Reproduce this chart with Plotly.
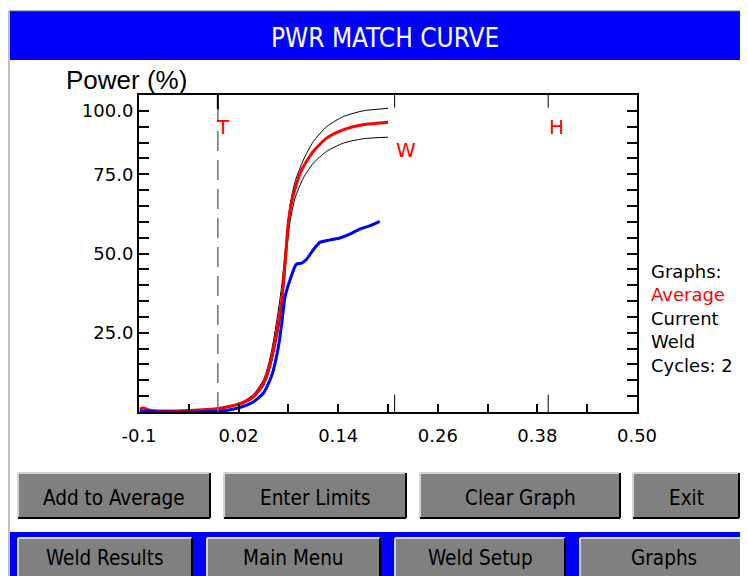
import plotly.graph_objects as go

# --- data ---
RED_X = [-0.099, -0.095, -0.087, -0.071, -0.039, -0.007, 0.010, 0.026, 0.038, 0.050, 0.056, 0.061,
         0.067, 0.072, 0.076, 0.080, 0.086, 0.096, 0.110, 0.126, 0.146, 0.170, 0.200]
RED_Y = [0.9, 1.3, 0.6, 0.3, 0.5, 1.0, 1.8, 3.0, 4.9, 9.1, 13.3, 18.7,
         27.0, 35.4, 47.0, 60.0, 68.5, 76.4, 82.2, 86.4, 89.0, 90.6, 91.4]

UPPER_X = [-0.099, -0.087, -0.071, -0.039, -0.007, 0.010, 0.026, 0.038, 0.050, 0.056, 0.061, 0.067,
           0.072, 0.078, 0.082, 0.088, 0.098, 0.110, 0.126, 0.146, 0.170, 0.200]
UPPER_Y = [0.6, 0.4, 0.4, 0.6, 1.1, 2.0, 3.4, 5.6, 10.2, 15.0, 21.0, 30.5,
           40.0, 55.9, 65.4, 72.7, 79.5, 85.3, 90.0, 93.2, 95.0, 95.8]

LOWER_X = UPPER_X
LOWER_Y = [0.5, 0.3, 0.2, 0.4, 0.9, 1.6, 2.7, 4.4, 8.2, 12.0, 17.0, 24.5,
           32.5, 50.6, 60.1, 67.5, 73.8, 78.5, 82.2, 84.8, 86.2, 86.7]

BLUE_X = [-0.099, -0.071, -0.031, -0.007, 0.010, 0.026, 0.038, 0.050, 0.058, 0.062, 0.068, 0.072,
          0.076, 0.082, 0.088, 0.090, 0.096, 0.102, 0.110, 0.118, 0.130, 0.142, 0.154, 0.166,
          0.178, 0.190]
BLUE_Y = [0.3, 0.0, 0.0, 0.2, 0.7, 1.8, 3.2, 6.0, 10.2, 13.3, 20.7, 28.0,
          36.4, 41.7, 46.0, 46.7, 47.0, 48.2, 51.2, 53.5, 54.3, 54.9, 56.1, 57.7,
          58.7, 60.1]

MARKER_NAMES = ["T", "W", "H"]
MARKER_X = [-0.005, 0.208, 0.393]
MARKER_LABEL_Y = [90, 82.7, 90]

X_TICKS = [-0.1, 0.02, 0.14, 0.26, 0.38, 0.50]
X_TICK_TEXT = ["-0.1", "0.02", "0.14", "0.26", "0.38", "0.50"]
Y_TICKS = [25, 50, 75, 95]
Y_TICK_TEXT = ["25.0", "50.0", "75.0", "100.0"]

LEGEND_LINES = ["Graphs:", "Average", "Current", "Weld", "Cycles: 2"]
LEGEND_COLORS = ["black", "red", "black", "black", "black"]

TOP_BUTTONS = ["Add to Average", "Enter Limits", "Clear Graph", "Exit"]
BOTTOM_BUTTONS = ["Weld Results", "Main Menu", "Weld Setup", "Graphs"]

# --- screen geometry, in page pixels (the page body has an 8px margin) ---
W, H = 748, 576
OFF = 8
PL, PR, PT, PB = 139, 637, 95, 412
TOP_BTN_X = [(18, 210), (224, 406), (420, 620), (633, 739)]
BOT_BTN_X = [(18, 192), (207, 380), (395, 565), (580, 760)]

COND = "DejaVu Sans Condensed, Liberation Sans Narrow, Arial Narrow, sans-serif"
VERD = "DejaVu Sans, Verdana, sans-serif"


def px(x):
    return (x - PL) / (PR - PL)


def py(y):
    return (PB - y) / (PB - PT)


fig = go.Figure()

curve = dict(mode="lines", line_shape="spline", line_smoothing=0.6)
fig.add_trace(go.Scatter(x=UPPER_X, y=UPPER_Y, line=dict(color="black", width=1), **curve))
fig.add_trace(go.Scatter(x=LOWER_X, y=LOWER_Y, line=dict(color="black", width=1), **curve))
fig.add_trace(go.Scatter(x=RED_X, y=RED_Y, line=dict(color="#ff0000", width=3), **curve))
fig.add_trace(go.Scatter(x=BLUE_X, y=BLUE_Y, line=dict(color="#0000ff", width=3), **curve))

shapes = []
annotations = []


def text(x, y, s, size, color="black", family=VERD, xanchor="center"):
    annotations.append(dict(x=px(x), y=py(y), xref="paper", yref="paper", text=s,
                            showarrow=False, xanchor=xanchor, yanchor="middle",
                            font=dict(family=family, size=size, color=color)))


# T/W/H marker lines
label_shift = {"T": 5, "W": 11, "H": 8}
for name, mx, ly in zip(MARKER_NAMES, MARKER_X, MARKER_LABEL_Y):
    if name == "T":
        shapes.append(dict(type="line", xref="x", yref="y domain", x0=mx, x1=mx, y0=0, y1=1,
                           line=dict(color="#707070", width=1.5, dash="20px,9px")))
        shapes.append(dict(type="line", xref="x", yref="y domain", x0=mx, x1=mx, y0=0.955, y1=1,
                           line=dict(color="black", width=2)))
    else:
        shapes.append(dict(type="line", xref="x", yref="y domain", x0=mx, x1=mx, y0=0.96, y1=1,
                           line=dict(color="black", width=1)))
        shapes.append(dict(type="line", xref="x", yref="y domain", x0=mx, x1=mx, y0=0, y1=0.055,
                           line=dict(color="black", width=1)))
    annotations.append(dict(x=mx, y=ly, xref="x", yref="y", text=name, showarrow=False,
                            xanchor="center", yanchor="middle", xshift=label_shift[name],
                            font=dict(family=VERD, size=20, color="#ff0000")))

# header bar
shapes.append(dict(type="rect", xref="paper", yref="paper", x0=px(10), x1=px(W + 2),
                   y0=py(60), y1=py(11), fillcolor="#0000ff", line=dict(width=0), layer="below"))
shapes.append(dict(type="line", xref="paper", yref="paper", x0=px(9), x1=px(W + 2),
                   y0=py(11), y1=py(11), line=dict(color="#606060", width=1)))
shapes.append(dict(type="line", xref="paper", yref="paper", x0=px(9), x1=px(9),
                   y0=py(H + 2), y1=py(11), line=dict(color="#808080", width=1)))
text(385, 38, "PWR MATCH CURVE", 26, "white", COND)

# bottom blue band
shapes.append(dict(type="rect", xref="paper", yref="paper", x0=px(10), x1=px(W + 2),
                   y0=py(H + 2), y1=py(532), fillcolor="#0000ff", line=dict(width=0), layer="below"))


def add_button(label, x0, x1, y0, y1, ty):
    shapes.append(dict(type="rect", xref="paper", yref="paper", x0=px(x0), x1=px(x1),
                       y0=py(y1), y1=py(y0), fillcolor="#808080", line=dict(width=0)))
    for a, b, c, d, col in [
        (x0, y0, x1, y0, "#d4d4d4"), (x0, y0, x0, y1, "#d4d4d4"),
        (x0, y1, x1, y1, "black"), (x1, y0, x1, y1, "black"),
    ]:
        shapes.append(dict(type="line", xref="paper", yref="paper", x0=px(a), y0=py(b),
                           x1=px(c), y1=py(d), line=dict(color=col, width=2)))
    text((x0 + min(x1, W)) / 2, ty, label, 20.5, "black", COND)


for label, (a, b) in zip(TOP_BUTTONS, TOP_BTN_X):
    add_button(label, a, b, 473, 518, 498)
for label, (a, b) in zip(BOTTOM_BUTTONS, BOT_BTN_X):
    add_button(label, a, b, 538, 592, 558)

# y title and legend text
text(64, 80, "Power (%)", 26, "black", "Liberation Sans, Arial, sans-serif", "left")
for i, (txt, col) in enumerate(zip(LEGEND_LINES, LEGEND_COLORS)):
    text(649, 271 + 23.6 * i, txt, 18, col, VERD, "left")

fig.update_layout(
    width=W - OFF, height=H - OFF,
    margin=dict(l=PL - OFF, r=W - PR, t=PT - OFF, b=H - PB),
    paper_bgcolor="white", plot_bgcolor="white",
    showlegend=False,
    shapes=shapes, annotations=annotations,
    font=dict(family=VERD, size=18, color="black"),
)
fig.update_xaxes(
    range=[-0.1, 0.5], tickvals=X_TICKS, ticktext=X_TICK_TEXT,
    showgrid=False, zeroline=False,
    showline=True, linecolor="black", linewidth=2, mirror=True,
    ticks="inside", ticklen=8, tickwidth=2, tickcolor="black", ticklabelstandoff=6,
    minor=dict(ticks="inside", dtick=0.06, tick0=-0.1, ticklen=8, tickwidth=2, tickcolor="black"),
    tickfont=dict(family=VERD, size=18, color="black"),
)
fig.update_yaxes(
    range=[0, 100], tickvals=Y_TICKS, ticktext=Y_TICK_TEXT,
    showgrid=False, zeroline=False,
    showline=True, linecolor="black", linewidth=2, mirror="allticks",
    ticks="inside", ticklen=10, tickwidth=2, tickcolor="black",
    minor=dict(ticks="inside", dtick=5, tick0=0, ticklen=10, tickwidth=2, tickcolor="black"),
    tickfont=dict(family=VERD, size=18, color="black"),
)

fig.write_html("out.html")
